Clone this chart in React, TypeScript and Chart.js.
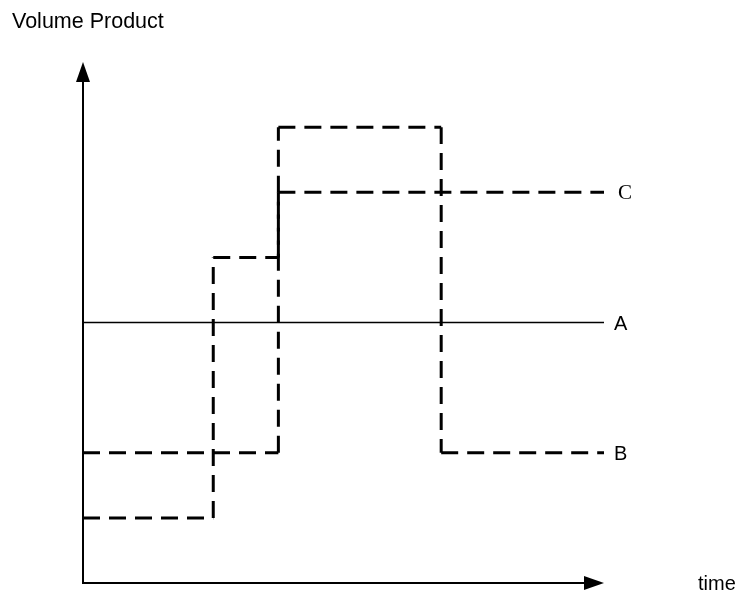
import React, { useEffect, useRef } from "react";
import { Chart, registerables } from "chart.js";

Chart.register(...registerables);

// ---- data (time units 0..100, volume units 0..100) ----
// each series: the time at which a level starts, and that level; all end at endTime
const seriesNames = ["A", "B", "C"];
const endTime = 100;
const timeA = [0];
const valuesA = [50];
const timeB = [0, 37.5, 68.75];
const valuesB = [25, 87.5, 25];
const timeC = [0, 25, 37.5];
const valuesC = [12.5, 62.5, 75];
const yAxisTitle = "Volume Product";
const xAxisTitle = "time";

// corners of the step shape (horizontal level, then vertical jump)
const stepCorners = (t: number[], v: number[]) => {
  const pts: { x: number; y: number }[] = [];
  t.forEach((start, i) => {
    const end = i + 1 < t.length ? t[i + 1] : endTime;
    pts.push({ x: start, y: v[i] });
    pts.push({ x: end, y: v[i] });
  });
  return pts;
};

const sansFont = '"Liberation Sans", Arial, Helvetica, sans-serif';
const serifFont = '"Liberation Serif", "Times New Roman", serif';

const axesPlugin = {
  id: "arrowAxes",
  afterDatasetsDraw(chart: any) {
    const { ctx, scales } = chart;
    const xs = scales.x;
    const ys = scales.y;
    const x0 = xs.getPixelForValue(0);
    const xEnd = xs.getPixelForValue(xs.max);
    const y0 = ys.getPixelForValue(0);
    const yEnd = ys.getPixelForValue(ys.max);
    const head = 20;
    const half = 7;
    ctx.save();
    ctx.strokeStyle = "#000";
    ctx.fillStyle = "#000";
    ctx.lineWidth = 2;
    ctx.setLineDash([]);
    // y axis
    ctx.beginPath();
    ctx.moveTo(x0, y0 + 1);
    ctx.lineTo(x0, yEnd + head);
    ctx.stroke();
    ctx.beginPath();
    ctx.moveTo(x0, yEnd);
    ctx.lineTo(x0 - half, yEnd + head);
    ctx.lineTo(x0 + half, yEnd + head);
    ctx.closePath();
    ctx.fill();
    // x axis
    ctx.beginPath();
    ctx.moveTo(x0 - 1, y0);
    ctx.lineTo(xEnd - head, y0);
    ctx.stroke();
    ctx.beginPath();
    ctx.moveTo(xEnd, y0);
    ctx.lineTo(xEnd - head, y0 - half);
    ctx.lineTo(xEnd - head, y0 + half);
    ctx.closePath();
    ctx.fill();

    // axis titles
    ctx.textBaseline = "alphabetic";
    ctx.textAlign = "left";
    ctx.font = `21.5px ${sansFont}`;
    ctx.fillText(yAxisTitle, 12, 28);
    ctx.font = `20px ${sansFont}`;
    ctx.fillText(xAxisTitle, 698, y0 + 7);

    // series labels at line ends
    const ends = [valuesA, valuesB, valuesC];
    seriesNames.forEach((name, i) => {
      const vals = ends[i];
      const py = ys.getPixelForValue(vals[vals.length - 1]);
      const px = xs.getPixelForValue(endTime);
      if (name === "C") {
        ctx.font = `21px ${serifFont}`;
        ctx.fillText(name, px + 14, py + 7);
      } else {
        ctx.font = `20px ${sansFont}`;
        ctx.fillText(name, px + 10, py + 7);
      }
    });
    ctx.restore();
  },
};

// restart the dash pattern on every straight piece
const segmentDash = {
  borderDashOffset: (c: any) => (c.p0DataIndex % 2) * 0.001,
};

export default function App() {
  const ref = useRef<HTMLCanvasElement>(null);
  useEffect(() => {
    if (!ref.current) return;
    const chart = new Chart(ref.current, {
      type: "scatter",
      data: {
        datasets: [
          {
            label: seriesNames[0],
            data: stepCorners(timeA, valuesA),
            showLine: true,
            borderColor: "#000",
            borderWidth: 1.5,
            pointRadius: 0,
            clip: false,
          },
          {
            label: seriesNames[1],
            data: stepCorners(timeB, valuesB),
            showLine: true,
            borderColor: "#000",
            borderWidth: 3,
            borderDash: [17, 9],
            segment: segmentDash,
            pointRadius: 0,
            clip: false,
          },
          {
            label: seriesNames[2],
            data: stepCorners(timeC, valuesC),
            showLine: true,
            borderColor: "#000",
            borderWidth: 3,
            borderDash: [17, 9],
            segment: segmentDash,
            pointRadius: 0,
            clip: false,
          },
        ] as any,
      },
      options: {
        animation: false,
        responsive: false,
        devicePixelRatio: 1,
        layout: { padding: { left: 83, right: 136, top: 62, bottom: 12 } },
        scales: {
          x: { type: "linear", min: 0, max: 100, display: false },
          y: { type: "linear", min: 0, max: 100, display: false },
        },
        plugins: {
          legend: { display: false },
          tooltip: { enabled: false },
          title: { display: false },
        },
        events: [],
      },
      plugins: [axesPlugin],
    });
    return () => chart.destroy();
  }, []);
  return (
    <div style={{ position: "fixed", left: 0, top: 0, width: 740, height: 595, background: "#fff" }}>
      <canvas ref={ref} width={740} height={595} />
    </div>
  );
}
